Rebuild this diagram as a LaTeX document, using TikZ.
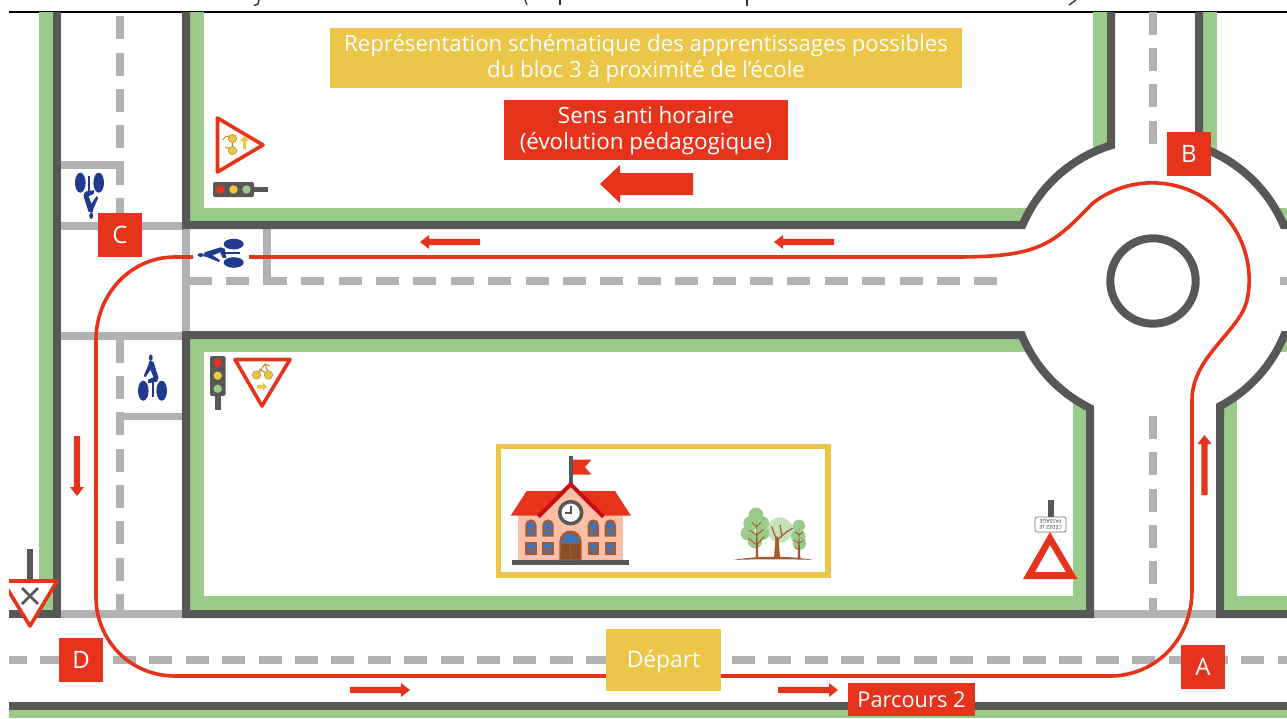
\documentclass[tikz,border=0pt]{standalone}
\usepackage{fontspec}
\setmainfont{Open Sans}
\definecolor{redc}{HTML}{E6331C}
\definecolor{yelc}{HTML}{EBC648}
\definecolor{grnc}{HTML}{9BCB8B}
\definecolor{lgrn}{HTML}{C6E0B8}
\definecolor{drkc}{HTML}{575756}
\definecolor{gryc}{HTML}{B2B2B2}
\definecolor{bluc}{HTML}{1F3A8F}
\definecolor{pinkc}{HTML}{FBBFA8}
\definecolor{brnc}{HTML}{A35A30}
\definecolor{winb}{HTML}{3B74BE}
\definecolor{rfdk}{HTML}{C80F10}
\definecolor{ybrd}{HTML}{B98F22}
\tikzset{
  roadedge/.style={draw=drkc,line width=8pt,miter limit=10},
  route/.style={draw=redc,line width=3.6pt},
  letterbox/.style={fill=redc,text=white,minimum width=44pt,minimum height=44pt,inner sep=0pt,font=\fontsize{24}{26}\selectfont},
  titlebox/.style={text=white,inner sep=0pt,align=center},
  signtri/.style={draw=redc,fill=white,line width=3.6pt,line join=round},
  sbike/.style={fill=yelc,draw=ybrd,line width=.5pt},
  sline/.style={draw=ybrd,line width=1pt},
  pics/cyc/.style={code={
    \fill[bluc] (-9.2,0) ellipse [x radius=5.3,y radius=10];
    \fill[bluc] (9.2,0) ellipse [x radius=5.3,y radius=10];
    \draw[bluc,line width=2.4pt] (0.3,-12) -- (0.3,6.5);
    \fill[bluc] (-1.7,-33) ellipse [x radius=1.9,y radius=3.2];
    \fill[bluc] (-3,-30) -- (1,-29) -- (6,-13) -- (4.5,-9) -- (-4.5,-7.5) -- (-4.5,-11) -- (1,-13.5) -- (-2,-21) -- (-7,-13.5) -- (-8.7,-15) -- (-4,-26) -- cycle;
  }},
  pics/sarrow/.style={code={
    \fill[redc] (0,-3.2) -- (51,-3.2) -- (51,-7) -- (60,0) -- (51,7) -- (51,3.2) -- (0,3.2) -- cycle;
  }}
}
\begin{document}
\begin{tikzpicture}[x=1pt,y=-1pt]
\useasboundingbox (0,0) rectangle (1287,718);
\fill[white] (0,0) rectangle (1287,718);
% fragments of the cut-off line above
\draw[black!80,line width=1.4pt] (259,0) -- (258,4) -- (254,5.5);
\draw[black!80,line width=1.2pt] (525,0) -- (527,5);
\draw[black!80,line width=1.4pt] (560,0) -- (560,5);
\draw[black!80,line width=1.4pt] (747,0) -- (747,6);
\draw[black!80,line width=1.4pt] (1076,0) -- (1069,5);
\draw[black,line width=1.2pt] (9,12) -- (1287,12);
\begin{scope}
\clip (9,12.6) rectangle (1287,718);
% green verges
\fill[grnc] (39,12) rectangle (53,610);
\fill[grnc] (190,12) rectangle (204,221);
\fill[grnc] (190,208) rectangle (1045,221);
\fill[grnc] (1093,12) rectangle (1107,170);
\fill[grnc] (1203,12) rectangle (1217,170);
\fill[grnc] (1265,208) rectangle (1287,221);
\fill[grnc] (190,338) rectangle (1045,352);
\fill[grnc] (190,338) rectangle (204,610);
\fill[grnc] (190,596) rectangle (1086,610);
\fill[grnc] (1073,385) rectangle (1086,610);
\fill[grnc] (1224,385) rectangle (1237,610);
\fill[grnc] (1224,596) rectangle (1287,610);
\fill[grnc] (1265,338) rectangle (1287,352);
\fill[grnc] (9,709) rectangle (1287,718);
\fill[white] (1153,281) circle [radius=142pt];
% grey solid lines
\fill[gryc] (61,222) rectangle (182,230);
\fill[gryc] (61,161) rectangle (124,169);
\fill[gryc] (182,229) rectangle (189.5,332);
\fill[gryc] (263,229) rectangle (271,285);
\fill[gryc] (61,332) rectangle (182,340);
\fill[gryc] (120,413) rectangle (182,420);
\fill[gryc] (61,610) rectangle (182,618);
\fill[gryc] (1094,610) rectangle (1216,618);
% grey dashes
\foreach \y in {16,53,89,125,162,198} {\fill[gryc] (116,\y) rectangle (124,\y+23);}
\foreach \y in {340,376,412,449,485,521,558} {\fill[gryc] (116,\y) rectangle (124,\y+23);}
\fill[gryc] (116,594) rectangle (124,610);
\foreach \y in {12,48,84,121} {\fill[gryc] (1149,\y) rectangle (1157,\y+23);}
\foreach \y in {416,452,489,525,561} {\fill[gryc] (1149,\y) rectangle (1157,\y+23);}
\fill[gryc] (1149,598) rectangle (1157,610);
\fill[gryc] (1280,277) rectangle (1287,285);
\foreach \k in {0,...,21} {\fill[gryc] ({189+37.4*\k},277) rectangle ({212+37.4*\k},285);}
\foreach \k in {0,...,35} {\fill[gryc] ({3.8+36.4*\k},656) rectangle ({26.8+36.4*\k},664);}
% road edges
\draw[roadedge] (57,12) -- (57,618);
\draw[roadedge] (9,614) -- (61,614);
\draw[roadedge] (9,705.5) -- (1287,705.5);
\draw[roadedge] (186,12) -- (186,225) -- (1022.5,225) arc [start angle=156.8,end angle=107.2,radius=142pt] -- (1111,12);
\draw[roadedge] (1199,12) -- (1199,146.7) arc [start angle=71.1,end angle=23.2,radius=142pt] -- (1290,225);
\draw[roadedge] (1090,408.3) -- (1090,614) -- (186,614) -- (186,335) -- (1021.7,335) arc [start angle=202.4,end angle=243.66,radius=142pt] -- cycle;
\draw[roadedge] (1290,614) -- (1220,614) -- (1220,406.2) arc [start angle=-61.85,end angle=-22.4,radius=142pt] -- (1290,335);
\draw[draw=drkc,line width=8pt] (1153,281) circle [radius=42.7pt];
% route
\draw[route] (249,257) -- (955,257) .. controls (1040,257) and (1052,245) .. (1093,203)
  arc [start angle=127.6,end angle=-10,radius=97pt]
  .. controls (1243,330) and (1192,355) .. (1192,400) -- (1192,590)
  .. controls (1192,640) and (1155,676) .. (1110,676) -- (175,676)
  .. controls (130,676) and (96,640) .. (96,597) -- (96,340)
  .. controls (96,295) and (130,257) .. (175,257) -- (193,257);
% traffic arrows
\pic at (350,690) {sarrow};
\pic at (778,690) {sarrow};
\pic[rotate=180] at (480,242) {sarrow};
\pic[rotate=180] at (834,242) {sarrow};
\pic[rotate=90] at (1204.5,495) {sarrow};
\pic[rotate=-90] at (77,436) {sarrow};
\fill[redc] (693,173) -- (620,173) -- (620,165) -- (600,184) -- (620,203) -- (620,195) -- (693,195) -- cycle;
% cyclists
\pic[rotate=180] at (89.5,182.7) {cyc};
\pic[rotate=90] at (233.7,253.3) {cyc};
\pic at (152.5,390.7) {cyc};
% traffic light horizontal
\fill[drkc] (254,187) rectangle (268,192);
\fill[drkc,rounded corners=2pt] (213,182) rectangle (254,197);
\fill[redc] (220.5,189.5) circle [radius=4.2pt];
\fill[yelc] (233.5,189.5) circle [radius=4.2pt];
\fill[grnc] (246.5,189.5) circle [radius=4.2pt];
% triangle sign top
\draw[signtri] (217.5,118) -- (263,145) -- (217.5,172) -- cycle;
\draw[sline] (223,140) .. controls (226,134) and (230,136) .. (232,139) -- (233,150) -- (225,147);
\fill[sbike] (232.5,138.5) circle [radius=4.2pt];
\fill[sbike] (232.5,150.5) circle [radius=4.2pt];
\fill[yelc] (243,149) rectangle (246,141) -- (249,141) -- (244.5,135.5) -- (240,141) -- (243,141) -- cycle;
% traffic light vertical
\fill[drkc] (215,396) rectangle (221,410);
\fill[drkc,rounded corners=2pt] (210,356) rectangle (225.5,396);
\fill[redc] (217.7,362.7) circle [radius=4.2pt];
\fill[yelc] (217.7,375.7) circle [radius=4.2pt];
\fill[grnc] (217.7,388.7) circle [radius=4.2pt];
% yield sign with bike
\draw[signtri] (235,359.5) -- (290,359.5) -- (262,406) -- cycle;
\draw[sline] (257,375) -- (265,364) -- (270,366) (265,364) -- (269,375) (259,369) -- (266,373);
\fill[sbike] (256.5,375) circle [radius=4.2pt];
\fill[sbike] (268.5,375) circle [radius=4.2pt];
\fill[yelc] (257,385) rectangle (263,388.5) -- (263,391) -- (267,386.7) -- (263,382.5) -- cycle;
% left yield sign
\fill[drkc] (27,549) rectangle (33,582);
\draw[signtri] (2.5,581) -- (57,581) -- (30,626) -- cycle;
\draw[drkc,line width=2.6pt] (22,588) -- (38,604) (38,588) -- (22,604);
% warning triangle and plate
\fill[drkc] (1048,500) rectangle (1054,517);
\draw[draw=black!55,fill=white,rounded corners=2pt,line width=.7pt] (1035,517) rectangle (1066,532);
\node[rotate=180,align=center,inner sep=0pt,text=black!75,font=\fontsize{5.2}{5.8}\selectfont] (plate) at (1050.5,524.5) {CÉDEZ LE\\PASSAGE};
\fill[redc,even odd rule] (1050,532) -- (1077.5,579) -- (1023,579) -- cycle (1050,545) -- (1035,572) -- (1066,572) -- cycle;
% school frame
\draw[yelc,line width=5.5pt] (498.7,446.7) rectangle (828.2,575.2);
\begin{scope}[shift={(490,435)},x=0.33333pt,y=-0.33333pt]
  \fill[drkc] (237,63) rectangle (249,150);
  \fill[redc] (249,74) -- (304,74) -- (285,96) -- (304,119) -- (249,119) -- cycle;
  \fill[pinkc] (85,240) rectangle (400,376);
  \fill[redc] (110,168) -- (375,168) -- (423,242) -- (62,242) -- cycle;
  \fill[pinkc] (242,150) -- (345,245) -- (140,245) -- cycle;
  \draw[rfdk,line width=4pt] (145,245) -- (242,148) -- (340,245);
  \fill[drkc] (66,375) rectangle (417,390);
  \fill[white,draw=drkc,line width=3.6pt] (242,233) circle [radius=33];
  \draw[drkc,line width=2pt] (242,212) -- (242,235) -- (225,235);
  \foreach \w in {123,174,310,361} {
    \fill[brnc] (\w-17,305) -- (\w-17,270) arc [start angle=180,end angle=0,radius=5.67pt] -- (\w+17,305) -- cycle;
    \fill[winb] (\w-11,283) -- (\w-11,272) arc [start angle=180,end angle=0,radius=3.67pt] -- (\w+11,283) -- cycle;
    \fill[winb] (\w-11,289) rectangle (\w+11,298);
    \fill[brnc] (\w-17,321) rectangle (\w+17,361);
    \fill[winb] (\w-11,327) rectangle (\w+11,338);
    \fill[winb] (\w-11,345) rectangle (\w+11,355);
  }
  \fill[brnc] (208,375) -- (208,320) arc [start angle=180,end angle=0,radius=11.17pt] -- (275,375) -- cycle;
  \fill[winb] (215,323) arc [start angle=180,end angle=0,radius=9pt] -- cycle;
  \fill[brnc!85!black] (213,327) rectangle (240,372);
  \fill[brnc!85!black] (244,327) rectangle (271,372);
  % trees
  \fill[lgrn] (870,285) circle [radius=38];
  \fill[lgrn] (850,280) circle [radius=20];
  \fill[lgrn] (895,285) circle [radius=20];
  \fill[grnc] (798,240) circle [radius=22];
  \fill[grnc] (782,265) circle [radius=22];
  \fill[grnc] (815,265) circle [radius=22];
  \fill[grnc] (774,295) circle [radius=22];
  \fill[grnc] (818,295) circle [radius=20];
  \fill[grnc] (795,318) circle [radius=22];
  \fill[grnc] (927,272) circle [radius=18];
  \fill[grnc] (925,305) circle [radius=22];
  \fill[grnc] (928,325) circle [radius=20];
  \fill[brnc] (797,370) -- (800,250) -- (805,370) -- cycle;
  \draw[brnc,line width=.9pt] (800,275) -- (785,262) (800,275) -- (813,262) (800,300) -- (778,285) (800,300) -- (820,283) (800,330) -- (775,310) (800,330) -- (822,305);
  \fill[brnc] (852,368) -- (857,305) -- (865,305) -- (870,368) -- cycle;
  \draw[brnc,line width=1.2pt] (860,315) -- (845,275) (862,315) -- (890,290) -- (908,280) (875,300) -- (870,270);
  \fill[brnc] (923,370) -- (927,280) -- (931,370) -- cycle;
  \draw[brnc,line width=.8pt] (927,300) -- (915,290) (927,300) -- (940,290) (927,325) -- (912,315) (927,325) -- (942,315) (927,345) -- (914,337);
  \fill[brnc] (730,375) .. controls (800,362) and (900,362) .. (970,375) .. controls (900,372) and (800,372) .. (730,375) -- cycle;
\end{scope}
% labels
\node[letterbox] (lblC) at (120,235) {C};
\node[letterbox] (lblB) at (1189,154) {B};
\node[letterbox] (lblA) at (1203,667) {A};
\node[letterbox] (lblD) at (81,660) {D};
\fill[yelc] (330,28) rectangle (962,88);
\node[titlebox,font=\fontsize{22.2}{26}\selectfont] (title) at (646,59) {Représentation schématique des apprentissages possibles\\du bloc 3 à proximité de l’école};
\fill[redc] (504,100) rectangle (788,160);
\node[titlebox,font=\fontsize{22.4}{26}\selectfont] (sens) at (646,131) {Sens anti horaire\\(évolution pédagogique)};
\fill[yelc] (606,629) rectangle (721,691);
\node[titlebox,font=\fontsize{22.8}{26}\selectfont] (depart) at (663.5,661) {Départ};
\fill[redc] (848,683) rectangle (975,716);
\node[titlebox,font=\fontsize{21.8}{26}\selectfont] (parcours) at (911.5,699.5) {Parcours 2};
\end{scope}
\end{tikzpicture}
\end{document}
